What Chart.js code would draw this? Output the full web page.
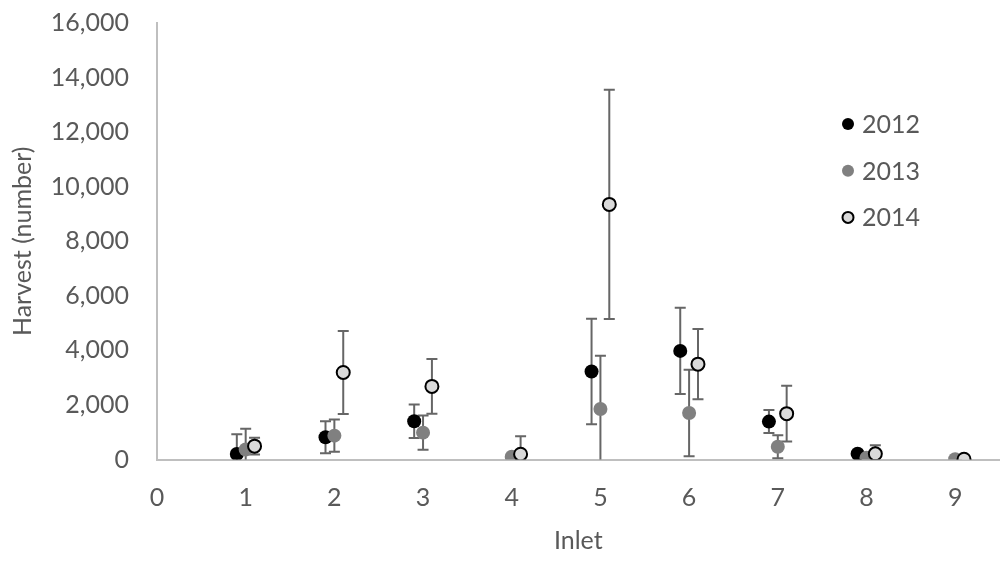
<!DOCTYPE html>
<html>
<head>
<meta charset="utf-8">
<script src="https://cdn.jsdelivr.net/npm/chart.js@4"></script>
<style>
  body { margin: 0; background: #fff; }
  #wrap { width: 1008px; height: 561px; }
</style>
</head>
<body>
<div id="wrap"><canvas id="chart" width="1008" height="561"></canvas></div>
<script>
// data
const inlets = [1, 2, 3, 4, 5, 6, 7, 8, 9];
const years = ['2012', '2013', '2014'];
const harvest2012 = [200, 815, 1400, null, 3225, 3980, 1390, 210, null];
const err2012 = [730, 590, 615, null, 1930, 1580, 420, 0, null];
const harvest2013 = [365, 875, 985, 100, 1850, 1705, 465, 60, 10];
const err2013 = [765, 595, 630, 0, 1950, 1585, 420, 0, 0];
const harvest2014 = [490, 3190, 2680, 195, 9350, 3495, 1680, 210, 10];
const err2014 = [310, 1520, 1000, 655, 4200, 1290, 1020, 315, 0];

const TEXT = '#595959';
const FONT = 'Lato';

// three years placed side by side around each inlet
function withErrors(values, errs, shift) {
  const pts = [];
  inlets.forEach((inlet, i) => {
    if (values[i] !== null) pts.push({ x: inlet + shift, y: values[i], err: errs[i] });
  });
  return pts;
}

// error bars drawn under the markers
const errorBars = {
  id: 'errorBars',
  beforeDatasetsDraw(chart) {
    const ctx = chart.ctx;
    const xs = chart.scales.x;
    const ys = chart.scales.y;
    const area = chart.chartArea;
    ctx.save();
    ctx.beginPath();
    ctx.rect(area.left, area.top - 2, area.right - area.left, area.bottom - area.top + 2);
    ctx.clip();
    ctx.strokeStyle = '#666666';
    ctx.lineWidth = 2;
    chart.data.datasets.forEach(ds => {
      ds.data.forEach(p => {
        if (!p.err) return;
        const px = xs.getPixelForValue(p.x);
        const top = ys.getPixelForValue(p.y + p.err);
        const bot = ys.getPixelForValue(p.y - p.err);
        ctx.beginPath();
        ctx.moveTo(px, top);
        ctx.lineTo(px, bot);
        ctx.moveTo(px - 5.5, top);
        ctx.lineTo(px + 5.5, top);
        ctx.moveTo(px - 5.5, bot);
        ctx.lineTo(px + 5.5, bot);
        ctx.stroke();
      });
    });
    ctx.restore();
  }
};

// legend sitting inside the plot, on the right
const insideLegend = {
  id: 'insideLegend',
  afterDraw(chart) {
    const ctx = chart.ctx;
    ctx.save();
    ctx.font = '25px ' + FONT;
    ctx.textBaseline = 'middle';
    chart.data.datasets.forEach((ds, i) => {
      const y = 124 + i * 46.7;
      ctx.beginPath();
      ctx.arc(848, y, ds.borderWidth ? 5.5 : 6, 0, Math.PI * 2);
      ctx.fillStyle = ds.backgroundColor;
      ctx.fill();
      if (ds.borderWidth) {
        ctx.lineWidth = ds.borderWidth;
        ctx.strokeStyle = ds.borderColor;
        ctx.stroke();
      }
      ctx.fillStyle = TEXT;
      ctx.fillText(ds.label, 862, y + 1);
    });
    ctx.restore();
  }
};

new Chart(document.getElementById('chart'), {
  type: 'scatter',
  data: {
    datasets: [
      {
        label: years[0],
        data: withErrors(harvest2012, err2012, -0.1),
        backgroundColor: '#000000',
        borderColor: '#000000',
        borderWidth: 0,
        pointRadius: 7,
        order: 3
      },
      {
        label: years[1],
        data: withErrors(harvest2013, err2013, 0),
        backgroundColor: '#808080',
        borderColor: '#808080',
        borderWidth: 0,
        pointRadius: 7,
        order: 2
      },
      {
        label: years[2],
        data: withErrors(harvest2014, err2014, 0.1),
        backgroundColor: '#d9d9d9',
        borderColor: '#000000',
        borderWidth: 2,
        pointRadius: 6.5,
        order: 1
      }
    ]
  },
  options: {
    responsive: false,
    animation: false,
    layout: { padding: { top: 23, right: 3, bottom: 0, left: 0 } },
    plugins: {
      legend: { display: false },
      tooltip: { enabled: false }
    },
    scales: {
      x: {
        type: 'linear',
        min: 0,
        max: 9.5,
        grid: { display: false, drawTicks: false },
        border: { display: true, color: '#bfbfbf', width: 2 },
        ticks: {
          stepSize: 1,
          includeBounds: false,
          padding: 23,
          color: TEXT,
          font: { family: FONT, size: 25 }
        },
        title: {
          display: true,
          text: 'Inlet',
          color: TEXT,
          font: { family: FONT, size: 25 },
          padding: { top: 0, bottom: 5 }
        },
        afterFit(s) {
          s.height = 101.5;
          s.paddingLeft = 0;
          s.paddingRight = 0;
        }
      },
      y: {
        min: 0,
        max: 16000,
        grid: { display: false, drawTicks: false },
        border: { display: true, color: '#bfbfbf', width: 2 },
        ticks: {
          stepSize: 2000,
          padding: 28,
          color: TEXT,
          font: { family: FONT, size: 25 }
        },
        title: {
          display: true,
          text: 'Harvest (number)',
          color: TEXT,
          font: { family: FONT, size: 25 },
          padding: { top: 8, bottom: 0 }
        },
        afterFit(s) {
          s.width = 157;
          s.paddingTop = 0;
          s.paddingBottom = 0;
        }
      }
    }
  },
  plugins: [errorBars, insideLegend]
});
</script>
</body>
</html>
